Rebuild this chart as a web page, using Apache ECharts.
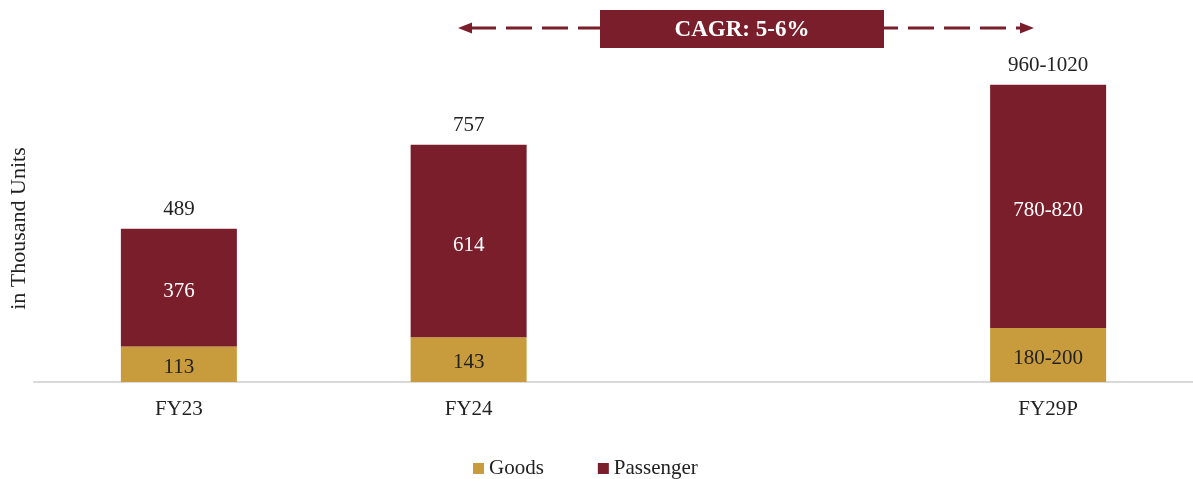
<!DOCTYPE html>
<html><head><meta charset="utf-8">
<script src="https://cdn.jsdelivr.net/npm/echarts@6/dist/echarts.min.js"></script>
<style>html,body{margin:0;padding:0;background:#fff}#c{width:1193px;height:479px}</style>
</head><body><div id="c"></div>
<script>
var categories = ['FY23', 'FY24', '', 'FY29P'];
var goods = [113, 143, null, 172];
var passenger = [376, 614, null, 777];
var goodsLabels = ['113', '143', '', '180-200'];
var passengerLabels = ['376', '614', '', '780-820'];
var totalLabels = ['489', '757', '', '960-1020'];
var cagrText = 'CAGR: 5-6%';

var RED = '#7B1E2B', GOLD = '#C89B3C', FONT = '"Liberation Serif", "Times New Roman", serif';
var chart = echarts.init(document.getElementById('c'));
chart.setOption({
  animation: false,
  textStyle: { fontFamily: FONT },
  grid: { left: 33, right: 0, top: 53, bottom: 97 },
  legend: {
    data: ['Goods', 'Passenger'], top: 453, left: 468, itemWidth: 11, itemHeight: 11, itemGap: 54,
    icon: 'rect', textStyle: { fontFamily: FONT, fontSize: 21, color: '#222' }
  },
  xAxis: {
    type: 'category', data: categories,
    axisLine: { lineStyle: { color: '#d9d9d9', width: 2 } },
    axisTick: { show: false },
    axisLabel: { fontFamily: FONT, fontSize: 21, color: '#222', margin: 17 }
  },
  yAxis: {
    type: 'value', min: 0, max: 1050,
    name: 'in Thousand Units', nameLocation: 'middle', nameGap: 4, nameRotate: 90,
    nameTextStyle: { fontFamily: FONT, fontSize: 22, color: '#222', padding: [0, 22, 0, 0] },
    axisLabel: { show: false }, splitLine: { show: false }, axisLine: { show: false }, axisTick: { show: false }
  },
  series: [
    { name: 'Goods', type: 'bar', stack: 's', barWidth: 116, data: goods,
      itemStyle: { color: GOLD },
      label: { show: true, position: 'inside', offset: [0, 3], fontFamily: FONT, fontSize: 21, color: '#222',
        formatter: function (p) { return goodsLabels[p.dataIndex]; } } },
    { name: 'Passenger', type: 'bar', stack: 's', barWidth: 116, data: passenger,
      itemStyle: { color: RED },
      label: { show: true, position: 'inside', offset: [0, 4], fontFamily: FONT, fontSize: 21, color: '#fff',
        formatter: function (p) { return passengerLabels[p.dataIndex]; } } },
    { name: 'Total', type: 'bar', stack: 's', barWidth: 116,
      data: categories.map(function (c, i) { return totalLabels[i] ? 0 : null; }),
      itemStyle: { color: 'transparent' },
      label: { show: true, position: 'top', distance: 9, fontFamily: FONT, fontSize: 21, color: '#222',
        formatter: function (p) { return totalLabels[p.dataIndex]; } } }
  ],
  graphic: [
    { type: 'line', shape: { x1: 470, y1: 28, x2: 600, y2: 28 },
      style: { stroke: RED, lineWidth: 3, lineDash: [26, 10] } },
    { type: 'line', shape: { x1: 884, y1: 28, x2: 1022, y2: 28 },
      style: { stroke: RED, lineWidth: 3, lineDash: [26, 10], lineDashOffset: 12 } },
    { type: 'polygon', shape: { points: [[458, 28], [472, 22.5], [472, 33.5]] }, style: { fill: RED } },
    { type: 'polygon', shape: { points: [[1034, 28], [1020, 22.5], [1020, 33.5]] }, style: { fill: RED } },
    { type: 'rect', shape: { x: 600, y: 10, width: 284, height: 38 }, style: { fill: RED } },
    { type: 'text', x: 742, y: 30, style: { text: cagrText, fill: '#fff', font: 'bold 23px ' + FONT, textAlign: 'center', textVerticalAlign: 'middle' } }
  ]
});
</script></body></html>
